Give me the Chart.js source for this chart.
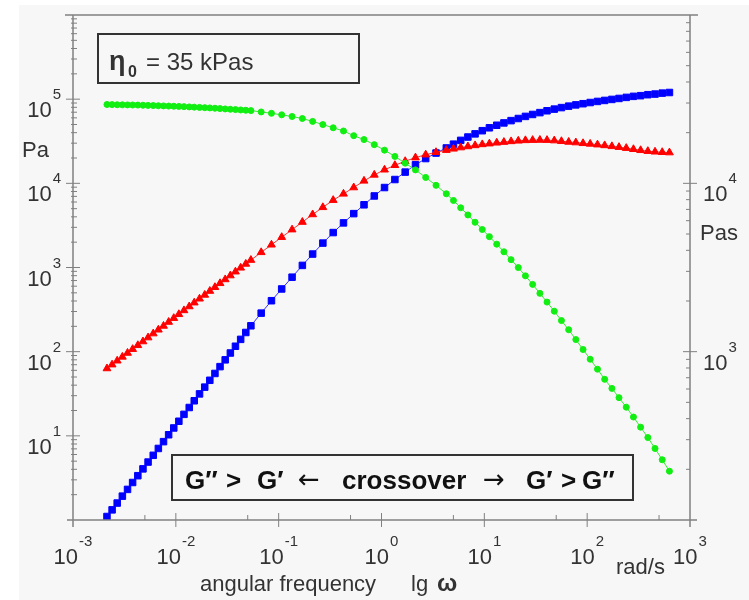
<!DOCTYPE html>
<html>
<head>
<meta charset="utf-8">
<script src="https://cdn.jsdelivr.net/npm/chart.js@4.4.0/dist/chart.umd.min.js"></script>
<style>
  body { margin: 0; background: #fff; }
</style>
</head>
<body>
<canvas id="chart" width="749" height="600"></canvas>
<script>
// angular frequency, rad/s
const omega = [
  0.00214, 0.0024, 0.00269, 0.00302, 0.00339, 0.0038, 0.00427, 0.00479, 0.00537, 0.00603,
  0.00676, 0.00759, 0.00851, 0.00955, 0.0107, 0.012, 0.0135, 0.0151, 0.017, 0.0191,
  0.0214, 0.024, 0.0269, 0.0302, 0.0339, 0.038, 0.0427, 0.0479, 0.0537,
  0.0676, 0.0851, 0.107, 0.135, 0.17, 0.214, 0.269, 0.339, 0.427, 0.537,
  0.676, 0.851, 1.07, 1.35, 1.7, 2.14, 2.69, 3.39, 4.27,
  5.01, 5.89, 6.92, 8.13, 9.55, 11.2, 13.2, 15.5, 18.2, 21.4,
  25.1, 29.5, 34.7, 40.7, 47.9, 56.2, 66.1, 77.6, 91.2, 107,
  126, 148, 174, 204, 240, 282, 331, 389, 457, 537, 631
];

// G' storage modulus, Pa
const storageModulus = [
  1.10, 1.32, 1.59, 1.92, 2.31, 2.79, 3.36, 4.05, 4.88, 5.87,
  7.08, 8.53, 10.3, 12.4, 14.9, 18.0, 21.7, 26.1, 31.5, 37.9,
  45.7, 55.1, 66.4, 80.0, 96.4, 116, 140, 169, 203,
  287, 403, 556, 767, 1059, 1445, 1950, 2600, 3388, 4365,
  5559, 7079, 8913, 11100, 13600, 16600, 19700, 22900, 26300,
  29200, 32400, 35500, 38700, 42200, 45700, 49000, 52200, 55600, 58900,
  62400, 65800, 69200, 72800, 76200, 79400, 82600, 85500, 88300, 91200,
  94000, 96600, 99300, 102000, 105000, 108000, 110000, 113000, 115000, 118000, 120000
];

// G'' loss modulus, Pa
const lossModulus = [
  63.1, 70.1, 78.0, 86.7, 96.4, 107, 119, 132, 147, 164,
  182, 202, 225, 250, 278, 309, 344, 382, 425, 472,
  525, 583, 649, 721, 802, 891, 991, 1102, 1225,
  1514, 1862, 2291, 2818, 3467, 4266, 5188, 6310, 7499, 8913,
  10700, 12600, 14500, 16400, 18300, 20200, 21900, 23400, 24800,
  25700, 26600, 27400, 28200, 29000, 29600, 30300, 30900, 31500, 32000,
  32400, 32600, 32700, 32600, 32200, 31600, 31000, 30500, 29900, 29400,
  28800, 28200, 27500, 26900, 26200, 25400, 24700, 24100, 23700, 23400, 23200
];

// |eta*| complex viscosity, Pas
const complexViscosity = [
  29400, 29350, 29300, 29270, 29240, 29200, 29170, 29100, 29040, 28970,
  28900, 28840, 28770, 28710, 28640, 28550, 28440, 28350, 28250, 28150,
  28050, 27930, 27800, 27670, 27540, 27420, 27290, 27170, 27040,
  26550, 26060, 25530, 24950, 24270, 23330, 22340, 21380, 20460, 19190,
  18200, 16980, 15740, 14450, 13180, 12020, 10840, 9730, 8670,
  7910, 7160, 6490, 5870, 5320, 4820, 4350, 3920, 3520, 3160,
  2820, 2510, 2220, 1970, 1740, 1530, 1350, 1180, 1030, 902,
  787, 685, 605, 533, 468, 409, 356, 309, 266, 228, 195
];

// labelled decades (exponents of ten)
const xTickExp = [-3, -2, -1, 0, 1, 2, 3];
const yTickExp = [1, 2, 3, 4, 5];
const y2TickExp = [3, 4];

const FONT = '"Liberation Sans", Arial, Helvetica, sans-serif';
const AXIS = '#808080';
const TEXT = '#333333';

function pts(vals) {
  return omega.map((w, i) => ({ x: w, y: vals[i] }));
}

function seg(ctx, x1, y1, x2, y2) {
  ctx.beginPath();
  ctx.moveTo(x1, y1);
  ctx.lineTo(x2, y2);
  ctx.stroke();
}

// "10" with a raised exponent; anchor: 'left' | 'right' | 'center'
function power(ctx, exp, x, base, anchor) {
  const e = String(exp);
  ctx.font = '22px ' + FONT;
  const w10 = ctx.measureText('10').width;
  ctx.font = '15px ' + FONT;
  const we = ctx.measureText(e).width;
  const total = w10 + 1 + we;
  let left = x;
  if (anchor === 'right') left = x - total;
  if (anchor === 'center') left = x - total / 2;
  ctx.textAlign = 'left';
  ctx.textBaseline = 'alphabetic';
  ctx.font = '22px ' + FONT;
  ctx.fillText('10', left, base);
  ctx.font = '15px ' + FONT;
  ctx.fillText(e, left + w10 + 1, base - 18);
}

const frame = {
  id: 'frame',
  beforeDraw(chart) {
    const ctx = chart.ctx;
    ctx.save();
    ctx.fillStyle = '#ffffff';
    ctx.fillRect(0, 0, chart.width, chart.height);
    ctx.fillStyle = '#f7f7f7';
    ctx.fillRect(19, 5, chart.width - 19, chart.height - 5);
    ctx.restore();
  },
  afterDraw(chart) {
    const ctx = chart.ctx;
    const a = chart.chartArea;
    const { x, y, y2 } = chart.scales;
    ctx.save();

    // axis frame
    ctx.strokeStyle = AXIS;
    ctx.lineWidth = 1.5;
    seg(ctx, a.left, a.top, a.left, a.bottom + 7);
    seg(ctx, a.right, a.top, a.right, a.bottom + 7);
    seg(ctx, a.left - 6, a.bottom, a.right + 7, a.bottom);
    seg(ctx, a.left - 8, a.top, a.right + 8, a.top);

    // left axis ticks
    ctx.lineWidth = 1;
    for (let k = 0; k < 6; k++) {
      const d = Math.pow(10, k);
      if (k > 0) seg(ctx, a.left - 7, y.getPixelForValue(d), a.left + 7, y.getPixelForValue(d));
      for (let m = 2; m <= 9; m++) {
        const py = y.getPixelForValue(m * d);
        seg(ctx, a.left - 2, py, a.left + 4, py);
      }
    }
    // right axis ticks
    for (let k = 2; k < 5; k++) {
      const d = Math.pow(10, k);
      if (k > 2) seg(ctx, a.right - 7, y2.getPixelForValue(d), a.right + 7, y2.getPixelForValue(d));
      for (let m = 2; m <= 9; m++) {
        const py = y2.getPixelForValue(m * d);
        seg(ctx, a.right - 4, py, a.right, py);
      }
    }
    // bottom axis ticks
    for (let k = -3; k < 3; k++) {
      const d = Math.pow(10, k);
      if (k > -3) seg(ctx, x.getPixelForValue(d), a.bottom - 7, x.getPixelForValue(d), a.bottom + 7);
      const px = x.getPixelForValue(5 * d);
      seg(ctx, px, a.bottom - 5, px, a.bottom);
    }

    // tick labels
    ctx.fillStyle = TEXT;
    yTickExp.forEach(e => power(ctx, e, a.left - 12, y.getPixelForValue(Math.pow(10, e)) + 18, 'right'));
    y2TickExp.forEach(e => power(ctx, e, a.right + 13, y2.getPixelForValue(Math.pow(10, e)) + 18, 'left'));
    xTickExp.forEach(e => power(ctx, e, x.getPixelForValue(Math.pow(10, e)), a.bottom + 44, 'center'));

    // units and axis title
    ctx.textAlign = 'left';
    ctx.font = '22px ' + FONT;
    ctx.fillText('Pa', 22, 157);
    ctx.fillText('Pas', 700, 240);
    ctx.fillText('rad/s', 616, 574);
    ctx.fillText('angular frequency', 200, 591);
    ctx.fillText('lg', 411, 591);
    ctx.font = 'bold 24px ' + FONT;
    ctx.fillText('ω', 437, 591);

    // zero-shear viscosity box
    ctx.strokeStyle = '#333333';
    ctx.lineWidth = 2;
    ctx.strokeRect(98, 34, 261, 49);
    ctx.font = 'bold 27px ' + FONT;
    ctx.fillText('η', 109, 70);
    ctx.font = 'bold 16px ' + FONT;
    ctx.fillText('0', 128, 77);
    ctx.font = '24px ' + FONT;
    ctx.fillText('= 35 kPas', 146, 70);

    // crossover box
    ctx.strokeRect(172, 455, 461, 45);
    ctx.fillStyle = '#111111';
    ctx.font = 'bold 26px ' + FONT;
    const parts = [
      ['G\u2033', 185], ['>', 226], ['G\u2032', 257],
      ['crossover', 342], ['G\u2032', 526], ['>', 561], ['G\u2033', 582]
    ];
    parts.forEach(([t, px]) => ctx.fillText(t, px, 489));
    ctx.font = '26px "DejaVu Sans", sans-serif';
    ctx.fillText('\u2190', 298, 488);
    ctx.fillText('\u2192', 483, 488);

    ctx.restore();
  }
};

new Chart(document.getElementById('chart'), {
  type: 'line',
  data: {
    datasets: [
      {
        label: '|η*|',
        data: pts(complexViscosity),
        yAxisID: 'y2',
        borderColor: '#33ee33',
        backgroundColor: '#11ee11',
        pointBorderColor: '#11ee11',
        pointStyle: 'circle',
        pointRadius: 3,
        pointBorderWidth: 1,
        borderWidth: 1
      },
      {
        label: "G''",
        data: pts(lossModulus),
        yAxisID: 'y',
        borderColor: '#ff3030',
        backgroundColor: '#ff0000',
        pointBorderColor: '#ff0000',
        pointStyle: 'triangle',
        pointRadius: 4.5,
        pointBorderWidth: 1,
        borderWidth: 1
      },
      {
        label: "G'",
        data: pts(storageModulus),
        yAxisID: 'y',
        borderColor: '#3030ff',
        backgroundColor: '#0000ff',
        pointBorderColor: '#0000ff',
        pointStyle: 'rect',
        pointRadius: 4.6,
        pointBorderWidth: 1,
        borderWidth: 1
      }
    ]
  },
  options: {
    responsive: false,
    animation: false,
    layout: { padding: { left: 73, right: 59, top: 15, bottom: 80 } },
    plugins: { legend: { display: false }, tooltip: { enabled: false } },
    scales: {
      x: { type: 'logarithmic', min: 0.001, max: 1000, display: false },
      y: { type: 'logarithmic', min: 1, max: 1000000, display: false },
      y2: { type: 'logarithmic', position: 'right', min: 100, max: 100000, display: false }
    }
  },
  plugins: [frame]
});
</script>
</body>
</html>
